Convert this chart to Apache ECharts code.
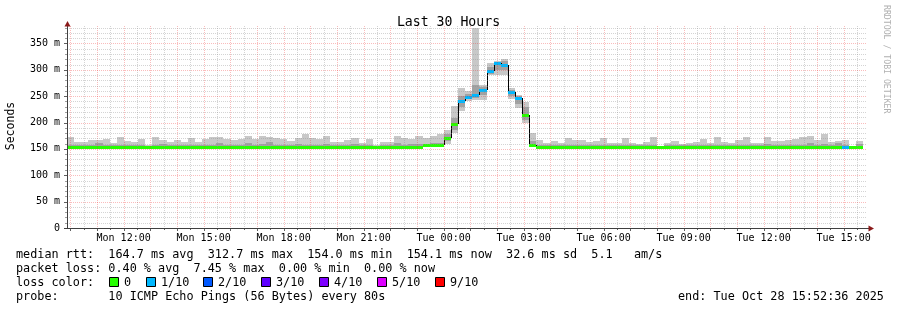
<!DOCTYPE html>
<html><head><meta charset="utf-8">
<script src="https://cdn.jsdelivr.net/npm/echarts@6/dist/echarts.min.js"></script>
<style>html,body{margin:0;padding:0;background:#fff}#c{width:897px;height:310px}</style>
</head><body><div id="c"></div>
<script>
// time axis in hours since Mon 00:00; window Mon 09:52:36 .. Tue 15:52:36
const startHour = 9 + 52/60 + 36/3600;
const endHour = startHour + 30;
const binHours = 16/60;

// median RTT per 16-minute bin (ms)
const median = [
154,154,154,154,154,154,154,154,154,154,
154,154,154,154,154,154,154,154,154,154,
154,154,154,154,154,154,154,154,154,154,
154,154,154,154,154,154,154,154,154,154,
154,154,154,154,154,154,154,154,154,154,
157,158,158,170,197,241,249,252,262,298,
312,309,257,246,214,157,154,154,154,154,
154,154,154,154,154,154,154,154,154,154,
154,154,154,154,154,154,154,154,154,154,
154,154,154,154,154,154,154,154,154,154,
154,154,154,154,154,154,154,154,154,154,
154,154];
// lost pings out of 10 per bin
const loss = [
0,0,0,0,0,0,0,0,0,0,
0,0,0,0,0,0,0,0,0,0,
0,0,0,0,0,0,0,0,0,0,
0,0,0,0,0,0,0,0,0,0,
0,0,0,0,0,0,0,0,0,0,
0,0,0,0,0,1,1,1,1,1,
1,1,1,1,0,0,0,0,0,0,
0,0,0,0,0,0,0,0,0,0,
0,0,0,0,0,0,0,0,0,0,
0,0,0,0,0,0,0,0,0,0,
0,0,0,0,0,0,0,0,0,1,
0,0];
// smoke (ping spread) top / bottom, ms
const smokeHi = [
172,163,163,167,167,168,162,172,165,163,
168,158,172,166,163,166,164,170,164,168,
173,173,168,166,168,174,168,175,173,170,
168,165,170,178,170,168,174,164,164,166,
170,162,169,158,164,164,175,170,169,174,
170,175,178,186,231,266,259,380,271,313,
316,320,266,252,238,180,167,161,165,162,
170,166,166,163,165,170,162,162,171,162,
160,164,172,156,162,165,160,162,164,168,
162,173,164,162,167,172,161,161,173,165,
165,166,168,173,174,166,178,164,165,166,
156,165];
const smokeLo = [
153,153,153,153,153,153,153,153,153,153,
153,153,153,153,153,153,153,153,153,153,
153,153,153,153,153,153,153,153,153,153,
153,153,153,153,153,153,153,153,153,153,
153,153,153,153,153,153,153,153,153,153,
154,154,155,160,180,222,240,243,243,290,
291,290,245,228,199,154,153,153,153,153,
153,153,153,153,153,153,153,153,153,153,
153,153,153,153,153,153,153,153,153,153,
153,153,153,153,153,153,153,153,153,153,
153,153,153,153,153,153,153,153,153,153,
153,153];
// denser (darker) part of the smoke
const smokeMidHi = [
157,157,157,157,161,157,157,157,157,157,
157,155,157,160,157,157,157,157,157,157,
157,161,157,157,157,161,157,159,163,157,
157,157,160,157,157,157,159,157,157,157,
159,157,157,156,157,157,161,157,159,160,
160,161,162,178,208,250,255,271,268,306,
314,316,262,250,230,165,157,157,157,157,
157,157,157,157,157,157,157,157,157,157,
157,157,157,156,157,157,157,157,157,157,
157,157,157,157,157,157,157,157,160,157,
157,157,157,157,161,157,159,157,161,157,
156,159];
const smokeMidLo = [
154,154,154,154,154,154,154,154,154,154,
154,154,154,154,154,154,154,154,154,154,
154,154,154,154,154,154,154,154,154,154,
154,154,154,154,154,154,154,154,154,154,
154,154,154,154,154,154,154,154,154,154,
155,155,156,165,186,229,244,247,252,292,
300,300,250,236,204,155,154,154,154,154,
154,154,154,154,154,154,154,154,154,154,
154,154,154,154,154,154,154,154,154,154,
154,154,154,154,154,154,154,154,154,154,
154,154,154,154,154,154,154,154,154,154,
154,154];

const xTickHours = [12,15,18,21,24,27,30,33,36,39];
const xTickLabels = ['Mon 12:00','Mon 15:00','Mon 18:00','Mon 21:00','Tue 00:00','Tue 03:00','Tue 06:00','Tue 09:00','Tue 12:00','Tue 15:00'];
const yTicks = [0,50,100,150,200,250,300,350];
const yTickLabels = ['0','50 m','100 m','150 m','200 m','250 m','300 m','350 m'];
const lossLabels = ['0','1/10','2/10','3/10','4/10','5/10','9/10'];
const lossColors = ['#26ff00','#00b8ff','#0059ff','#5e00ff','#7e00ff','#dd00ff','#ff0000'];

const yMax = 383;
const FONT = '"DejaVu Sans Mono", monospace';

function lossColor(n){
  if (n <= 0) return lossColors[0];
  if (n <= 4) return lossColors[n];
  if (n < 9) return lossColors[5];
  return lossColors[6];
}

const smokeData = median.map((m, i) => {
  const t0 = startHour + i * binHours;
  const t1 = Math.min(t0 + binHours, endHour);
  return [t0, t1, smokeLo[i], smokeHi[i], smokeMidLo[i], smokeMidHi[i], m, loss[i], i > 0 ? median[i-1] : m];
});

function renderSmoke(params, api){
  const t0 = api.value(0), t1 = api.value(1);
  const x0 = Math.round(api.coord([t0, 0])[0]);
  const x1 = Math.round(api.coord([t1, 0])[0]);
  const Y = v => api.coord([t0, v])[1];
  const children = [];
  const band = (lo, hi, fill) => {
    const ya = Math.round(Y(hi)), yb = Math.round(Y(lo));
    children.push({type:'rect', shape:{x:x0, y:ya, width:x1-x0, height:Math.max(1, yb-ya)}, style:{fill}});
  };
  band(api.value(2), api.value(3), '#c8c8c8');
  band(api.value(4), api.value(5), '#a2a2a2');
  const my = Math.round(Y(api.value(6)));
  const py = Math.round(Y(api.value(8)));
  children.push({type:'line', shape:{x1:x0+0.5, y1:py, x2:x0+0.5, y2:my}, style:{stroke:'#000', lineWidth:1}});
  children.push({type:'line', shape:{x1:x0, y1:my+0.5, x2:x1, y2:my+0.5}, style:{stroke:'#000', lineWidth:1}});
  children.push({type:'rect', shape:{x:x0, y:my-1, width:x1-x0, height:3}, style:{fill: lossColor(api.value(7))}});
  return {type:'group', children};
}

const vGridData = [];
for (let h = Math.ceil(startHour * 2) / 2; h < endHour; h += 0.5) vGridData.push([h, 0]);
const hGridData = [];
for (let v = 10; v <= yMax; v += 10) hGridData.push([startHour, v]);

const MINOR = 'rgba(143,143,143,0.38)';
const MAJOR = 'rgba(240,32,32,0.3)';

function renderVGrid(params, api){
  const h = api.value(0);
  const p0 = api.coord([h, 0]), p1 = api.coord([h, yMax]);
  const x = Math.round(p0[0]) + 0.5;
  const major = Math.abs(h - Math.round(h)) < 1e-6;
  return {type:'group', children:[
    {type:'line', shape:{x1:x, y1:Math.round(p1[1]), x2:x, y2:Math.round(p0[1])}, style:{stroke: major ? MAJOR : MINOR, lineWidth:1, lineDash:[1,1]}},
    {type:'line', shape:{x1:x, y1:Math.round(p0[1]), x2:x, y2:Math.round(p0[1]) + (major ? 3 : 2)}, style:{stroke:'#606060', lineWidth:1}}
  ]};
}
function renderHGrid(params, api){
  const v = api.value(1);
  const p0 = api.coord([startHour, v]), p1 = api.coord([endHour, v]);
  const y = Math.round(p0[1]) + 0.5;
  const major = v % 50 === 0;
  return {type:'group', children:[
    {type:'line', shape:{x1:Math.round(p0[0]), y1:y, x2:Math.round(p1[0]), y2:y}, style:{stroke: major ? MAJOR : MINOR, lineWidth:1, lineDash:[1,1]}},
    {type:'line', shape:{x1:Math.round(p0[0]) - (major ? 3 : 2), y1:y, x2:Math.round(p0[0]), y2:y}, style:{stroke: major ? '#606060' : '#a0a0a0', lineWidth:1}}
  ]};
}

const chart = echarts.init(document.getElementById('c'), null, {renderer:'canvas', width:897, height:310});

const textEl = (text, x, y, opts) => Object.assign({
  type:'text', x, y, z:20,
  style: Object.assign({text, font: '11.8px ' + FONT, fill:'#000', textAlign:'left', align:'left', textVerticalAlign:'middle', verticalAlign:'middle'}, (opts && opts.style) || {})
}, (opts && opts.el) || {});

const graphics = [
  // axes
  {type:'line', z:15, shape:{x1:67.5, y1:228, x2:67.5, y2:25}, style:{stroke:'#404040', lineWidth:1}},
  {type:'line', z:15, shape:{x1:64, y1:228.5, x2:869, y2:228.5}, style:{stroke:'#404040', lineWidth:1}},
  {type:'polygon', z:16, shape:{points:[[67.5,21],[64.5,26.5],[70.5,26.5]]}, style:{fill:'#8b1a1a'}},
  {type:'polygon', z:16, shape:{points:[[874,228.5],[868.5,225.5],[868.5,231.5]]}, style:{fill:'#8b1a1a'}},
  // y axis name
  textEl('Seconds', 11, 126, {el:{rotation: Math.PI/2}, style:{textAlign:'center', align:'center', font:'11.5px ' + FONT}}),
  // watermark
  textEl('RRDTOOL / TOBI OETIKER', 886, 5, {el:{rotation: -Math.PI/2}, style:{font:'8.2px ' + FONT, fill:'#b0b0b0'}}),
  // legend lines
  textEl('median rtt:  164.7 ms avg  312.7 ms max  154.0 ms min  154.1 ms now  32.6 ms sd  5.1   am/s', 16, 255),
  textEl('packet loss: 0.40 % avg  7.45 % max  0.00 % min  0.00 % now', 16, 268.5),
  textEl('loss color:', 16, 282.5),
  textEl('probe:       10 ICMP Echo Pings (56 Bytes) every 80s', 16, 296.5),
  textEl('end: Tue Oct 28 15:52:36 2025', 678, 296.5)
];
const boxX = [109, 146, 203, 261, 319, 377, 435];
lossLabels.forEach((lab, i) => {
  graphics.push({type:'rect', z:20, shape:{x:boxX[i] + 0.5, y:277.5, width:9, height:9}, style:{fill: lossColors[i], stroke:'#000', lineWidth:1}});
  graphics.push(textEl(lab, boxX[i] + 15, 282.5));
});

chart.setOption({
  animation: false,
  backgroundColor: '#ffffff',
  title: {text:'Last 30 Hours', left:'center', top:11, textStyle:{fontFamily: FONT, fontSize:13.2, fontWeight:'normal', color:'#000'}},
  grid: {left:67, right:30, top:26, bottom:82, containLabel:false},
  xAxis: {
    type:'value', min:startHour, max:endHour,
    axisLine:{show:false}, axisTick:{show:false}, splitLine:{show:false},
    axisLabel:{customValues: xTickHours, formatter: v => { const k = xTickHours.findIndex(h => Math.abs(h - v) < 1e-6); return k >= 0 ? xTickLabels[k] : ''; }, fontFamily: FONT, fontSize:10, color:'#000', margin:5}
  },
  yAxis: {
    type:'value', min:0, max:yMax, interval:50,
    axisLine:{show:false}, axisTick:{show:false}, splitLine:{show:false},
    axisLabel:{formatter: v => { const k = yTicks.indexOf(v); return k >= 0 ? yTickLabels[k] : ''; }, fontFamily: FONT, fontSize:10, color:'#000', margin:7}
  },
  graphic: graphics,
  series: [
    {type:'custom', name:'smoke', z:2, data: smokeData, encode:{x:[0,1], y:[2,3]}, renderItem: renderSmoke, silent:true},
    {type:'custom', name:'vgrid', z:5, data: vGridData, encode:{x:0, y:1}, renderItem: renderVGrid, silent:true},
    {type:'custom', name:'hgrid', z:5, data: hGridData, encode:{x:0, y:1}, renderItem: renderHGrid, silent:true}
  ]
});
</script></body></html>
